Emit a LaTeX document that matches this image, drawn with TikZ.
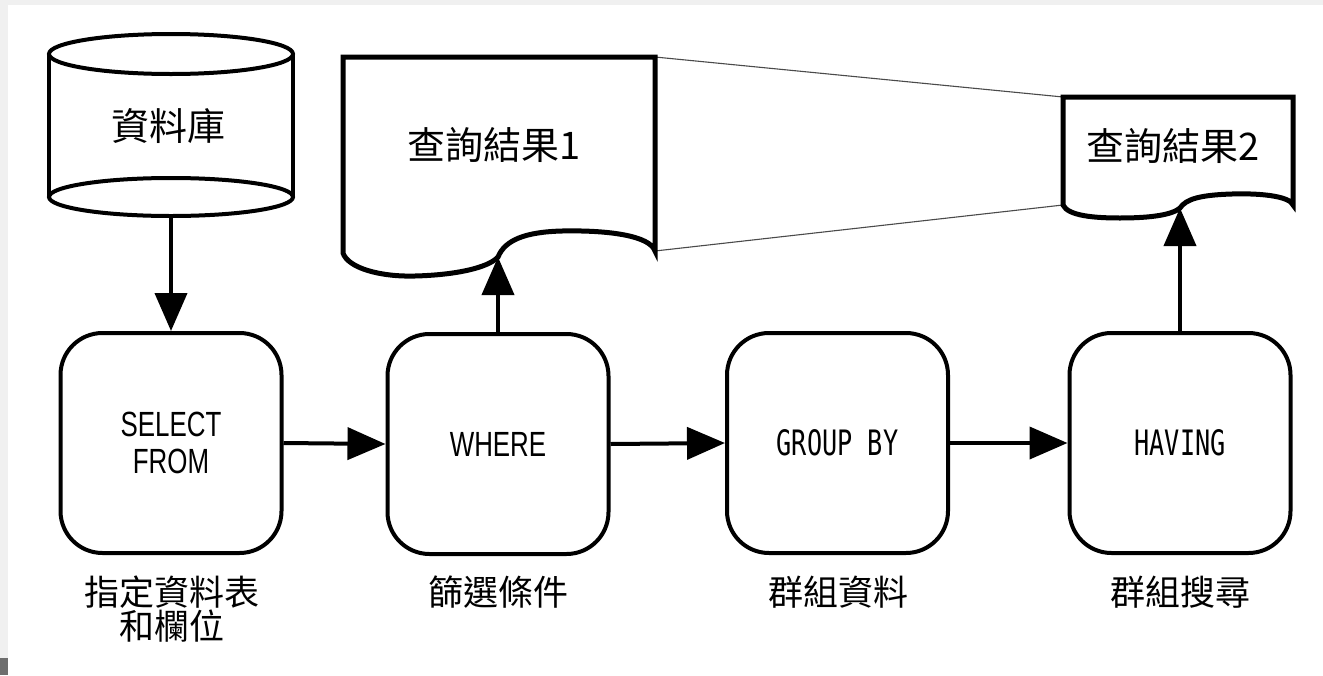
\documentclass[tikz,border=0pt]{standalone}
\usepackage{fontspec}
\usetikzlibrary{arrows.meta}
\newfontfamily\cjk{Noto Sans CJK TC}
\newfontfamily\narrowf[FakeStretch=0.74]{Liberation Sans}
\newfontfamily\monof[FakeStretch=0.72]{DejaVu Sans Mono}
\definecolor{edgegray}{HTML}{F0F0F0}
\definecolor{cornergray}{HTML}{6E6E6E}
\definecolor{thingray}{HTML}{4A4A4A}
\tikzset{
  procbox/.style={draw, line width=4pt, rounded corners=42pt, minimum width=221pt, minimum height=220pt, inner sep=0pt, fill=white},
  flowarrow/.style={line width=4pt, -{Triangle[length=38pt,width=32pt]}},
  doclines/.style={line width=5pt, fill=white},
  thinline/.style={draw=thingray, line width=1.1pt},
  cjklabel/.style={font=\cjk\fontsize{35}{34}\selectfont, align=center, inner sep=0pt},
  cjkbig/.style={font=\cjk\fontsize{38}{40}\selectfont, inner sep=0pt},
  seltext/.style={font=\narrowf\fontsize{35}{37}\selectfont, align=center},
  monotext/.style={font=\monof\fontsize{35}{37}\selectfont, align=center}
}
\begin{document}
\begin{tikzpicture}[x=1pt,y=-1pt]
\useasboundingbox (0,0) rectangle (1323,675);
\fill[white] (0,0) rectangle (1323,675);
\fill[edgegray] (0,0) rectangle (1323,5);
\fill[edgegray] (0,0) rectangle (8,675);
\fill[cornergray] (0,658) rectangle (8,675);

% database cylinder
\fill[white] (49,54) rectangle (293,197);
\draw[line width=4pt] (49,54) -- (49,197);
\draw[line width=4pt] (293,54) -- (293,197);
\draw[line width=4pt, fill=white] (171,197) ellipse [x radius=122, y radius=19];
\draw[line width=4pt, fill=white] (171,54) ellipse [x radius=122, y radius=20];
\node (db) [inner sep=0pt, minimum width=244pt, minimum height=182pt] at (171,125) {};
\node (dbtext) [cjkbig] at (168,126) {資料庫};

% documents
\coordinate (d1tl) at (343,57);
\coordinate (d1tr) at (655,57);
\coordinate (d1br) at (655,251);
\coordinate (d1bl) at (343,253);
\coordinate (c1) at (498,257);
\coordinate (d2tl) at (1063,97);
\coordinate (d2tr) at (1293,97);
\coordinate (d2br) at (1293,205);
\coordinate (d2bl) at (1063,205);
\coordinate (c2) at (1180,208);

\draw[thinline] (d1tr) -- (d2tl);
\draw[thinline] (d1br) -- (d2bl);

\draw[doclines] (d1tl) -- (d1tr) -- (d1br)
  .. controls (650,236) and (610,230) .. (562,231)
  .. controls (525,232) and (505,240) .. (c1)
  .. controls (488,268) and (455,275) .. (415,276)
  .. controls (380,277) and (348,268) .. (d1bl) -- cycle;
\node (doc1) [cjkbig] at (494,145) {查詢結果1};

\draw[doclines] (d2tl) -- (d2tr) -- (d2br)
  .. controls (1290,197) and (1265,193) .. (1232,194)
  .. controls (1200,195) and (1186,199) .. (c2)
  .. controls (1172,215) and (1150,218) .. (1120,218)
  .. controls (1095,218) and (1068,216) .. (d2bl) -- cycle;
\node (doc2) [cjkbig] at (1173,146) {查詢結果2};

% process boxes
\node (sel) [procbox, seltext] at (171,443) {SELECT\\FROM};
\node (where) [procbox, seltext] at (498,444) {WHERE};
\node (group) [procbox, monotext] at (837.5,443) {GROUP BY};
\node (having) [procbox, monotext] at (1180,443) {HAVING};

% labels
\node (l1) [cjklabel] at (172,609) {指定資料表\\和欄位};
\node (l2) [cjklabel] at (498,592) {篩選條件};
\node (l3) [cjklabel] at (838,592) {群組資料};
\node (l4) [cjklabel] at (1180,592) {群組搜尋};

% connectors
\draw[flowarrow] (db.south) -- (sel.north);
\draw[flowarrow] (sel.east) -- (where.west);
\draw[flowarrow] (where.east) -- (group.west);
\draw[flowarrow] (group.east) -- (having.west);
\draw[flowarrow] (where.north) -- (c1);
\draw[flowarrow] (having.north) -- (c2);
\end{tikzpicture}
\end{document}
